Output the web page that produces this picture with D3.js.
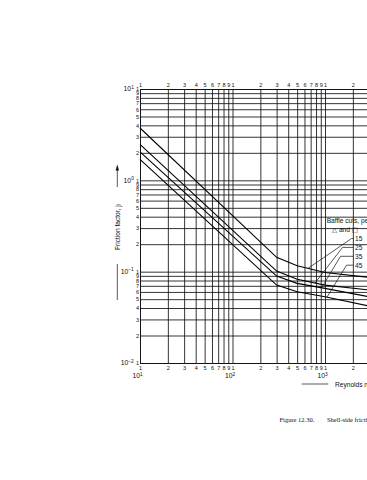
<!DOCTYPE html>
<html>
<head>
<meta charset="utf-8">
<script src="https://cdnjs.cloudflare.com/ajax/libs/d3/7.8.5/d3.min.js"></script>
<style>
  body { margin: 0; background: #fff; }
  svg { display: block; }
  text { font-family: "Liberation Sans", Arial, Helvetica, sans-serif; fill: #111; }
  .caption { font-family: "Liberation Serif", "Times New Roman", serif; }
  .sym { font-family: "DejaVu Sans", sans-serif; }
</style>
</head>
<body>
<div id="chart"></div>
<script>
// shell-side friction factor
var reynolds = [10, 300, 500, 1000, 3000];
var cut15 = [3.74, 0.1435, 0.116, 0.098, 0.0867];
var cut25 = [2.48, 0.1016, 0.0824, 0.0713, 0.063];
var cut35 = [2.05, 0.0895, 0.0745, 0.0656, 0.0531];
var cut45 = [1.70, 0.0713, 0.0603, 0.0531, 0.0420];
var cutLabels = ['15', '25', '35', '45'];
var leaderRe = [655, 780, 920, 1050];

var minorDigits = [1, 2, 3, 4, 5, 6, 7, 8, 9];
var xDecades = [10, 100, 1000];
var yDecades = [0.01, 0.1, 1, 10];
var xDecadeExp = ['1', '2', '3'];
var yDecadeExp = ['\u22122', '\u22121', '0', '1'];

(function(d3) {
    'use strict';

    var width = 367;
    var height = 480;
    var left = 140, right = 417.5, top = 89, bottom = 363;
    var tickFont = 5.5;
    var labelFont = 6.6;

    var x = d3.scaleLog().domain([10, 1e4]).range([left, right]);
    var y = d3.scaleLog().domain([0.01, 10]).range([bottom, top]);

    var svg = d3.select('#chart')
      .append('svg')
      .attr('width', width)
      .attr('height', height);

    var xGrid = [], yGrid = [];
    xDecades.forEach(function(d) {
      minorDigits.forEach(function(m) { xGrid.push(m * d); });
    });
    xGrid.push(1e4);
    yDecades.slice(0, 3).forEach(function(d) {
      minorDigits.forEach(function(m) { yGrid.push(+(m * d).toPrecision(3)); });
    });
    yGrid.push(10);

    function digit(d) {
      var p = Math.pow(10, Math.floor(Math.log10(d) + 1e-9));
      return String(Math.round(d / p));
    }

    function styleAxis(g) {
      g.attr('font-size', tickFont)
        .attr('font-family', null);
      g.selectAll('line').attr('stroke', '#111').attr('stroke-width', 0.85);
      g.select('.domain').attr('stroke', '#111').attr('stroke-width', 0.9);
    }

    // bottom axis carries the vertical grid
    svg.append('g')
      .attr('transform', 'translate(0,' + bottom + ')')
      .call(d3.axisBottom(x).tickValues(xGrid).tickSize(-(bottom - top))
        .tickSizeOuter(0).tickPadding(2.8).tickFormat(digit))
      .call(styleAxis);

    svg.append('g')
      .attr('transform', 'translate(0,' + top + ')')
      .call(d3.axisTop(x).tickValues(xGrid).tickSize(0)
        .tickSizeOuter(0).tickPadding(2).tickFormat(digit))
      .call(styleAxis);

    // left axis carries the horizontal grid
    svg.append('g')
      .attr('transform', 'translate(' + left + ',0)')
      .call(d3.axisLeft(y).tickValues(yGrid).tickSize(-(right - left))
        .tickSizeOuter(0).tickPadding(1).tickFormat(digit))
      .call(styleAxis);

    // decade labels
    var xd = svg.selectAll('.xdec')
      .data(xDecades)
      .enter()
      .append('text')
      .attr('class', 'xdec')
      .attr('x', function(d) { return x(d) - 2.5; })
      .attr('y', 378)
      .attr('text-anchor', 'middle')
      .attr('font-size', 6.8);
    xd.append('tspan').text('10');
    xd.append('tspan')
      .attr('dy', -2.4)
      .attr('font-size', 4.8)
      .text(function(d, i) { return xDecadeExp[i]; });

    var yd = svg.selectAll('.ydec')
      .data(yDecades)
      .enter()
      .append('text')
      .attr('class', 'ydec')
      .attr('x', 133.8)
      .attr('y', function(d) { return y(d) + 2.2; })
      .attr('text-anchor', 'end')
      .attr('font-size', 6.8);
    yd.append('tspan').text('10');
    yd.append('tspan')
      .attr('dy', -2.4)
      .attr('font-size', 4.8)
      .text(function(d, i) { return yDecadeExp[i]; });

    // curves
    var series = [cut15, cut25, cut35, cut45];
    var line = d3.line()
      .x(function(d) { return x(d[0]); })
      .y(function(d) { return y(d[1]); });

    svg.selectAll('.curve')
      .data(series)
      .enter()
      .append('path')
      .attr('class', 'curve')
      .attr('d', function(s) { return line(d3.zip(reynolds, s)); })
      .attr('fill', 'none')
      .attr('stroke', '#000')
      .attr('stroke-width', 1.1);

    // leader lines to the baffle cut labels
    function valueAt(s, re) {
      var i = d3.bisectRight(reynolds, re) - 1;
      var t = (Math.log(re) - Math.log(reynolds[i])) /
        (Math.log(reynolds[i + 1]) - Math.log(reynolds[i]));
      return Math.exp(Math.log(s[i]) + t * (Math.log(s[i + 1]) - Math.log(s[i])));
    }

    var elbowX = [351.5, 342.5, 340.5, 346.5];
    var labelX = 355;
    series.forEach(function(s, i) {
      var ly = 238.5 + 8.9 * i;
      var px = x(leaderRe[i]);
      var py = y(valueAt(s, leaderRe[i]));
      svg.append('path')
        .attr('d', 'M' + px + ',' + py + 'L' + elbowX[i] + ',' + ly + 'L' + (labelX - 1.5) + ',' + ly)
        .attr('fill', 'none')
        .attr('stroke', '#111')
        .attr('stroke-width', 0.7);
      svg.append('text')
        .attr('x', labelX)
        .attr('y', ly + 2.4)
        .attr('font-size', labelFont)
        .text(cutLabels[i]);
    });

    svg.append('text')
      .attr('x', 326.7)
      .attr('y', 223.1)
      .attr('font-size', labelFont)
      .text('Baffle cuts, per cent');
    var sym = svg.append('text')
      .attr('x', 332)
      .attr('y', 232.4)
      .attr('font-size', labelFont);
    sym.append('tspan').attr('class', 'sym').text('\u25B3');
    sym.append('tspan').text(' and ');
    sym.append('tspan').attr('class', 'sym').text('\u25A1');

    // y axis title with arrow
    var yt = svg.append('text')
      .attr('transform', 'translate(119.6,227) rotate(-90)')
      .attr('text-anchor', 'middle')
      .attr('font-size', labelFont);
    yt.append('tspan').text('Friction factor, j');
    yt.append('tspan').attr('dy', 1.6).attr('font-size', 4.6).text('f');

    svg.append('line')
      .attr('x1', 117.3).attr('x2', 117.3)
      .attr('y1', 187).attr('y2', 169)
      .attr('stroke', '#111').attr('stroke-width', 0.7);
    svg.append('path')
      .attr('d', 'M117.3,164.5L115.6,170.5L119,170.5Z')
      .attr('fill', '#111');
    svg.append('line')
      .attr('x1', 117.3).attr('x2', 117.3)
      .attr('y1', 264).attr('y2', 300)
      .attr('stroke', '#111').attr('stroke-width', 0.7);

    // x axis title
    svg.append('line')
      .attr('x1', 301.7).attr('x2', 328.3)
      .attr('y1', 384).attr('y2', 384)
      .attr('stroke', '#111').attr('stroke-width', 0.7);
    svg.append('text')
      .attr('x', 335)
      .attr('y', 386.5)
      .attr('font-size', labelFont)
      .text('Reynolds number, Re');

    // caption
    svg.append('text')
      .attr('class', 'caption')
      .attr('x', 279.5)
      .attr('y', 421.5)
      .attr('font-size', 6.5)
      .text('Figure 12.30.');
    svg.append('text')
      .attr('class', 'caption')
      .attr('x', 327)
      .attr('y', 421.5)
      .attr('font-size', 6.5)
      .text('Shell-side friction factors, segmental baffles');

})(window.d3);
</script>
</body>
</html>
